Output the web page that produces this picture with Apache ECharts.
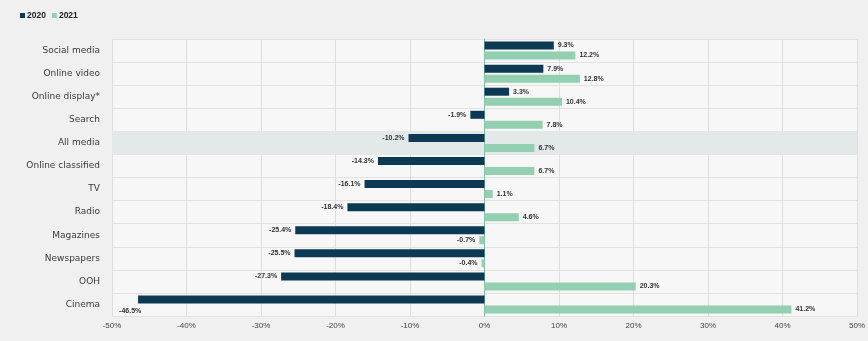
<!DOCTYPE html>
<html>
<head>
<meta charset="utf-8">
<script src="https://cdn.jsdelivr.net/npm/echarts@6/dist/echarts.min.js"></script>
<style>
html,body{margin:0;padding:0;background:#f0f0f0;}
#c{width:868px;height:341px;}
</style>
</head>
<body>
<div id="c"></div>
<script>
const categories = ["Social media","Online video","Online display*","Search","All media","Online classified","TV","Radio","Magazines","Newspapers","OOH","Cinema"];
const values2020 = [9.3, 7.9, 3.3, -1.9, -10.2, -14.3, -16.1, -18.4, -25.4, -25.5, -27.3, -46.5];
const values2021 = [12.2, 12.8, 10.4, 7.8, 6.7, 6.7, 1.1, 4.6, -0.7, -0.4, 20.3, 41.2];
const xTicks = [-50, -40, -30, -20, -10, 0, 10, 20, 30, 40, 50];
const highlightCategory = "All media";

const C2020 = '#0c3a55';
const C2021 = '#92d0b1';
const labelStyle = {fontSize: 7, color: '#333', fontWeight: 'bold', fontFamily: 'Liberation Sans, Arial, sans-serif'};

function mkData(vals, special) {
  return vals.map((v, i) => {
    const item = {value: v, label: {position: v < 0 ? 'left' : 'right'}};
    if (special && categories[i] === 'Cinema') {
      item.label = {position: [-19, 12], align: 'left', verticalAlign: 'top'};
    }
    return item;
  });
}

const chart = echarts.init(document.getElementById('c'));
chart.setOption({
  backgroundColor: '#f0f0f0',
  animation: false,
  legend: {
    left: 15, top: 6,
    itemWidth: 5, itemHeight: 5, itemGap: 6,
    icon: 'rect',
    textStyle: {fontSize: 8.5, color: '#222', fontWeight: 'bold', padding: [0,0,0,-3], fontFamily: 'Liberation Sans, Arial, sans-serif'},
    data: ['2020', '2021']
  },
  grid: {left: 112, right: 11, top: 39, bottom: 25, show: true, backgroundColor: '#f7f7f7', borderWidth: 0},
  xAxis: {
    type: 'value', min: xTicks[0], max: xTicks[xTicks.length-1], interval: 10,
    axisLabel: {formatter: v => v + '%', fontSize: 8, color: '#444', margin: 6, fontFamily: 'Liberation Sans, Arial, sans-serif'},
    axisLine: {show: false}, axisTick: {show: false},
    splitLine: {lineStyle: {color: '#dedede', width: 1}}
  },
  yAxis: {
    type: 'category', data: categories, inverse: true,
    axisLabel: {fontSize: 9, color: '#3a3a3a', margin: 12, fontFamily: 'DejaVu Sans, sans-serif'},
    axisTick: {show: false},
    axisLine: {onZero: true, lineStyle: {color: '#7fbf9f', width: 1}},
    splitLine: {show: true, lineStyle: {color: '#e2e2e2', width: 1}}
  },
  series: [
    {
      type: 'custom', name: 'band', silent: true, z: 0,
      data: categories.map((c, i) => c === highlightCategory ? [i] : null).filter(d => d),
      renderItem: function (params, api) {
        const idx = api.value(0);
        const p1 = api.coord([xTicks[0], idx]);
        const p2 = api.coord([xTicks[xTicks.length-1], idx]);
        const h = api.size([0, 1])[1];
        return {type: 'rect', shape: {x: p1[0], y: p1[1] - h/2, width: p2[0] - p1[0], height: h}, style: {fill: '#e3e8e9'}};
      }
    },
    {
      name: '2020', type: 'bar', barWidth: 8, barGap: '25%',
      itemStyle: {color: C2020},
      label: Object.assign({show: true, distance: 4, formatter: p => p.value.toFixed(1) + '%'}, labelStyle),
      data: mkData(values2020, true)
    },
    {
      name: '2021', type: 'bar', barWidth: 8, barGap: '25%',
      itemStyle: {color: C2021},
      label: Object.assign({show: true, distance: 4, formatter: p => p.value.toFixed(1) + '%'}, labelStyle),
      data: mkData(values2021, false)
    }
  ]
});
</script>
</body>
</html>
